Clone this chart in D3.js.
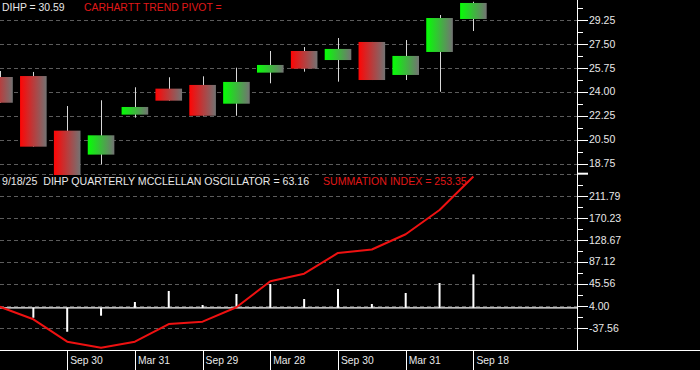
<!DOCTYPE html>
<html><head><meta charset="utf-8">
<script src="https://cdn.jsdelivr.net/npm/d3@7"></script>
<style>body{margin:0;background:#000;overflow:hidden}svg{display:block}text{font-family:Arial,"Liberation Sans",sans-serif;white-space:pre}</style>
</head><body><svg id="c" width="700" height="370"></svg>
<script>
// Quarterly candles, Q1 2022 .. Q3 2025
const quarters = ["2022-03","2022-06","2022-09","2022-12","2023-03","2023-06","2023-09","2023-12","2024-03","2024-06","2024-09","2024-12","2025-03","2025-06","2025-09"];
const openVals  = [25.07,25.14,21.15,19.40,22.32,24.22,24.49,23.12,25.39,26.97,26.31,27.63,25.22,26.90,29.31];
const highVals  = [25.51,25.44,22.95,23.37,24.32,25.05,25.12,25.75,26.97,27.26,27.92,27.63,27.77,29.60,30.57];
const lowVals   = [23.19,19.98,17.91,18.69,22.10,23.34,22.24,22.24,24.61,25.46,24.73,24.85,24.85,23.99,28.43];
const closeVals = [23.19,19.98,17.91,20.81,22.88,23.34,22.24,24.71,25.95,25.68,27.12,24.85,26.61,29.38,30.48];
const oscillator = [0,-18.7,-45.2,-14.9,11.0,31.8,5.3,26.1,45.0,16.6,35.5,7.2,28.0,46.9,63.16];
const summation  = [2.1,-21.7,-64.0,-75.3,-64.0,-30.6,-26.2,1.0,50.1,64.4,103.6,110.2,138.9,184.8,248.0];
const priceTicks = [18.75,20.50,22.25,24.00,25.75,27.50,29.25];
const oscTicks   = [-37.56,4.00,45.56,87.12,128.67,170.23,211.79];
const oscTop = 253.36;
const xTickIndex  = [2,4,6,8,10,12,14];
const xTickLabels = ["Sep 30","Mar 31","Sep 29","Mar 28","Sep 30","Mar 31","Sep 18"];

const svg = d3.select("#c");
svg.append("rect").attr("width",700).attr("height",370).attr("fill","#000");
const axisX = 577.5, plotW = 577;
const x = d3.scaleLinear().domain([0,14]).range([-0.5,473.4]);
const bodyW = 26.6;
const yP = d3.scaleLinear().domain([18.75,29.25]).range([163.5,19.8]);
const yO = d3.scaleLinear().domain([4.00,211.79]).range([305.7,195.7]);

const defs = svg.append("defs");
function grad(id,c){const g=defs.append("linearGradient").attr("id",id).attr("x1",0).attr("x2",1).attr("y1",0).attr("y2",0);
 g.append("stop").attr("offset",0).attr("stop-color",c);g.append("stop").attr("offset",1).attr("stop-color","#737373");}
grad("gr","#ff0505");grad("gg","#05ff05");
defs.append("clipPath").attr("id","cpTop").append("rect").attr("x",0).attr("y",0).attr("width",plotW).attr("height",175);
defs.append("clipPath").attr("id","cpBot").append("rect").attr("x",0).attr("y",174).attr("width",plotW).attr("height",176);

const gridCol="#5c5c5c";
svg.append("g").selectAll("line").data(priceTicks).join("line")
 .attr("x1",0).attr("x2",plotW).attr("y1",d=>Math.round(yP(d))+0.5).attr("y2",d=>Math.round(yP(d))+0.5)
 .attr("stroke",gridCol).attr("stroke-dasharray","4,3");
svg.append("g").selectAll("line").data(oscTicks.concat([oscTop])).join("line")
 .attr("x1",0).attr("x2",plotW).attr("y1",d=>Math.round(yO(d))+0.5).attr("y2",d=>Math.round(yO(d))+0.5)
 .attr("stroke",gridCol).attr("stroke-dasharray","4,3");

// candles
const cg = svg.append("g").attr("clip-path","url(#cpTop)");
const idx = d3.range(quarters.length);
cg.selectAll("line").data(idx).join("line")
 .attr("x1",i=>Math.round(x(i))+0.5).attr("x2",i=>Math.round(x(i))+0.5)
 .attr("y1",i=>yP(highVals[i])).attr("y2",i=>yP(lowVals[i])).attr("stroke","#d8d8d8").attr("stroke-width",1);
cg.selectAll("rect").data(idx).join("rect")
 .attr("x",i=>x(i)-bodyW/2).attr("width",bodyW)
 .attr("y",i=>yP(Math.max(openVals[i],closeVals[i])))
 .attr("height",i=>Math.abs(yP(openVals[i])-yP(closeVals[i])))
 .attr("fill",i=>closeVals[i]>=openVals[i]?"url(#gg)":"url(#gr)");

// oscillator + summation
const og = svg.append("g").attr("clip-path","url(#cpBot)");
og.selectAll("rect").data(idx).join("rect")
 .attr("x",i=>x(i)-1).attr("width",2)
 .attr("y",i=>Math.min(yO(0),yO(oscillator[i]))).attr("height",i=>Math.abs(yO(0)-yO(oscillator[i])))
 .attr("fill","#fff");
og.append("line").attr("x1",0).attr("x2",plotW).attr("y1",yO(0)).attr("y2",yO(0)).attr("stroke","#fff").attr("stroke-width",1.2);
og.append("path").datum(idx).attr("d",d3.line().x(i=>x(i)).y(i=>yO(summation[i])))
 .attr("fill","none").attr("stroke","#ee1111").attr("stroke-width",2).attr("stroke-linejoin","round");

// right axis
svg.append("line").attr("x1",axisX).attr("x2",axisX).attr("y1",0).attr("y2",350).attr("stroke","#fff");
function axisTicks(scale,ticks,extraMinor){
 const g=svg.append("g");
 g.selectAll("line.maj").data(ticks).join("line").attr("class","maj")
  .attr("x1",axisX).attr("x2",588).attr("y1",d=>Math.round(scale(d))+0.5).attr("y2",d=>Math.round(scale(d))+0.5).attr("stroke","#fff");
 const minors=[];for(let k=0;k<ticks.length-1;k++)minors.push((ticks[k]+ticks[k+1])/2);
 extraMinor.forEach(m=>minors.push(m));
 g.selectAll("line.min").data(minors).join("line").attr("class","min")
  .attr("x1",axisX).attr("x2",583).attr("y1",d=>Math.round(scale(d))+0.5).attr("y2",d=>Math.round(scale(d))+0.5).attr("stroke","#fff");
 g.selectAll("text").data(ticks).join("text").attr("x",589).attr("y",d=>scale(d)+3.8)
  .attr("fill","#e8e8e8").attr("font-size","10.5px").text(d=>d.toFixed(2));
}
axisTicks(yP,priceTicks,[30.125]);
axisTicks(yO,oscTicks,[(211.79+oscTop)/2]);
svg.append("line").attr("x1",axisX).attr("x2",588).attr("y1",yO(oscTop)).attr("y2",yO(oscTop)).attr("stroke","#fff").attr("stroke-width",2);

// bottom axis
svg.append("line").attr("x1",0).attr("x2",700).attr("y1",350.5).attr("y2",350.5).attr("stroke","#fff");
const bx = svg.append("g");
bx.selectAll("line").data(xTickIndex).join("line")
 .attr("x1",i=>Math.round(x(i))+0.5).attr("x2",i=>Math.round(x(i))+0.5).attr("y1",350).attr("y2",370).attr("stroke","#fff");
bx.selectAll("text").data(xTickIndex).join("text")
 .attr("x",i=>x(i)+3).attr("y",363.5).attr("fill","#e8e8e8").attr("font-size","10.3px").text((d,k)=>xTickLabels[k]);

// headers
svg.append("text").attr("x",2).attr("y",10.5).attr("fill","#e8e8e8").attr("font-size","10.4px").text("DIHP = 30.59");
svg.append("text").attr("x",84).attr("y",10.5).attr("fill","#e01818").attr("font-size","10.4px").text("CARHARTT TREND PIVOT =");
svg.append("text").attr("x",2).attr("y",185).attr("fill","#e8e8e8").attr("font-size","10.6px").text("9/18/25  DIHP QUARTERLY MCCLELLAN OSCILLATOR = 63.16");
svg.append("text").attr("x",323).attr("y",185).attr("fill","#e01818").attr("font-size","10.6px").text("SUMMATION INDEX = 253.35");
</script></body></html>
